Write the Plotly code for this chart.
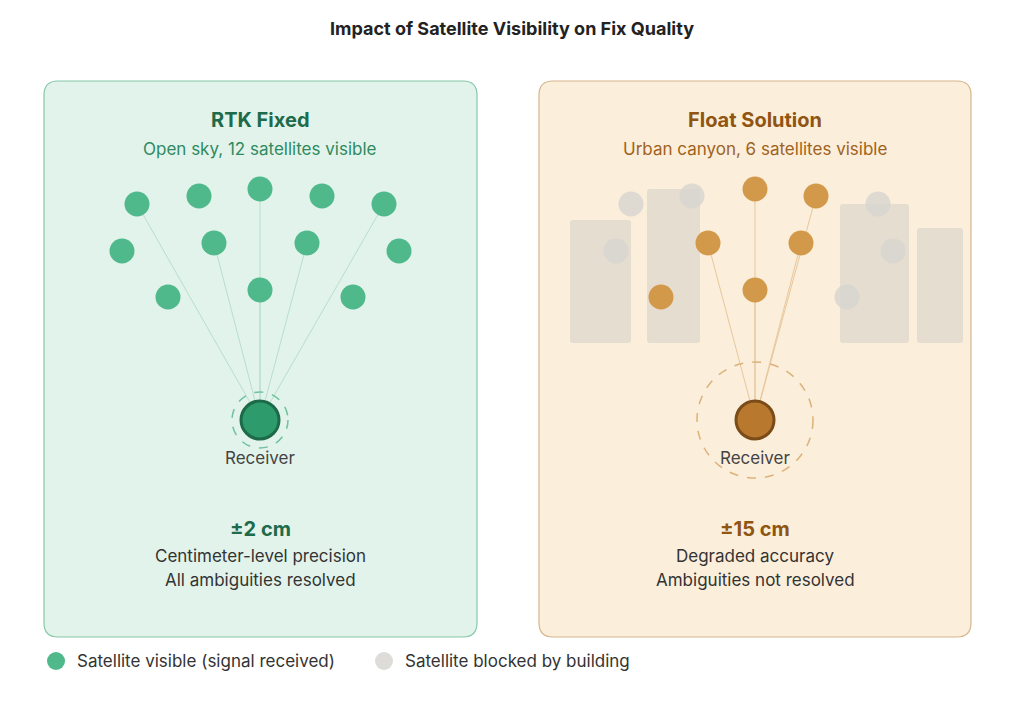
import plotly.graph_objects as go

# satellite positions (pixel layout coordinates)
left_sat_x = [137, 199, 260, 322, 384, 122, 214, 307, 399, 168, 260, 353]
left_sat_y = [204, 196, 189, 196, 204, 251, 243, 243, 251, 297, 290, 297]
left_links = [0, 2, 6, 7, 4, 10]
right_vis_x = [755, 816, 708, 801, 755, 661]
right_vis_y = [189, 196, 243, 243, 290, 297]
right_links = [0, 1, 2, 3, 4]
right_blk_x = [631, 692, 616, 878, 893, 847]
right_blk_y = [204, 196, 251, 204, 251, 297]
buildings = [(570, 220, 631, 343), (647, 189, 700, 343), (840, 204, 909, 343), (917, 228, 963, 343)]
receivers = [(260, 420), (755, 420)]

GREEN, ORANGE, GREY = "#4fb98b", "#d3994a", "#dedcd8"
FONT = "Inter, Roboto, sans-serif"


def rounded(x0, y0, x1, y1, r):
    return (f"M{x0+r},{y0} L{x1-r},{y0} Q{x1},{y0} {x1},{y0+r} L{x1},{y1-r} Q{x1},{y1} {x1-r},{y1} "
            f"L{x0+r},{y1} Q{x0},{y1} {x0},{y1-r} L{x0},{y0+r} Q{x0},{y0} {x0+r},{y0} Z")


fig = go.Figure()
shapes = [
    dict(type="path", path=rounded(44, 81, 477, 637, 14), fillcolor="#e2f3eb",
         line=dict(color="#86c8a8", width=1.2), layer="below"),
    dict(type="path", path=rounded(539, 81, 971, 637, 14), fillcolor="#fbeedb",
         line=dict(color="#d6b68c", width=1.2), layer="below"),
]
for x0, y0, x1, y1 in buildings:
    shapes.append(dict(type="path", path=rounded(x0, y0, x1, y1, 3), fillcolor="rgba(215,210,200,0.6)",
                       line=dict(width=0), layer="below"))
for i in left_links:
    shapes.append(dict(type="line", x0=receivers[0][0], y0=receivers[0][1], x1=left_sat_x[i], y1=left_sat_y[i],
                       line=dict(color="#b7dfc9", width=1), layer="below"))
for i in right_links:
    shapes.append(dict(type="line", x0=receivers[1][0], y0=receivers[1][1], x1=right_vis_x[i], y1=right_vis_y[i],
                       line=dict(color="#e6c79b", width=1), layer="below"))
shapes.append(dict(type="circle", x0=232, y0=392, x1=288, y1=448, line=dict(color="#6fc39c", width=1.5, dash="dash")))
shapes.append(dict(type="circle", x0=697, y0=362, x1=813, y1=478, line=dict(color="#dcb27a", width=1.5, dash="dash")))
fig.update_layout(shapes=shapes)

fig.add_trace(go.Scatter(x=right_blk_x, y=right_blk_y, mode="markers",
                         marker=dict(size=25, color="rgba(215,212,208,0.8)", line=dict(width=0))))
fig.add_trace(go.Scatter(x=left_sat_x, y=left_sat_y, mode="markers",
                         marker=dict(size=25, color=GREEN, line=dict(width=0))))
fig.add_trace(go.Scatter(x=right_vis_x, y=right_vis_y, mode="markers",
                         marker=dict(size=25, color=ORANGE, line=dict(width=0))))
fig.add_trace(go.Scatter(x=[receivers[0][0]], y=[receivers[0][1]], mode="markers",
                         marker=dict(size=38, color="#2e9b6c", line=dict(color="#1d6a49", width=3))))
fig.add_trace(go.Scatter(x=[receivers[1][0]], y=[receivers[1][1]], mode="markers",
                         marker=dict(size=38, color="#b8782d", line=dict(color="#7a4c19", width=3))))
# legend markers
fig.add_trace(go.Scatter(x=[56, 384], y=[661, 661], mode="markers",
                         marker=dict(size=18, color=[GREEN, GREY], line=dict(width=0))))


def txt(x, y, s, size, color, bold=False, anchor="center"):
    fig.add_annotation(x=x, y=y, text=f"<b>{s}</b>" if bold else s, showarrow=False, xanchor=anchor,
                       font=dict(size=size, color=color, family=FONT))


txt(512, 28, "Impact of Satellite Visibility on Fix Quality", 18, "#222222", True)
txt(260, 120, "RTK Fixed", 20, "#1d6b4a", True)
txt(260, 149, "Open sky, 12 satellites visible", 17, "#2e8a5f")
txt(755, 120, "Float Solution", 20, "#8f5511", True)
txt(755, 149, "Urban canyon, 6 satellites visible", 17, "#9f6220")
txt(260, 458, "Receiver", 17, "#444444")
txt(755, 458, "Receiver", 17, "#444444")
txt(260, 529, "±2 cm", 20, "#1d6b4a", True)
txt(260, 556, "Centimeter-level precision", 17, "#333333")
txt(260, 580, "All ambiguities resolved", 17, "#333333")
txt(755, 529, "±15 cm", 20, "#8f5511", True)
txt(755, 556, "Degraded accuracy", 17, "#333333")
txt(755, 580, "Ambiguities not resolved", 17, "#333333")
txt(75, 661, "Satellite visible (signal received)", 17, "#333333", anchor="left")
txt(403, 661, "Satellite blocked by building", 17, "#333333", anchor="left")

# ranges shifted by 8px to offset the page's body margin
fig.update_layout(width=1024, height=706, margin=dict(l=0, r=0, t=0, b=0), showlegend=False,
                  paper_bgcolor="white", plot_bgcolor="white",
                  xaxis=dict(range=[8, 1032], visible=False, fixedrange=True),
                  yaxis=dict(range=[714, 8], visible=False, fixedrange=True))
fig.write_html("out.html")
